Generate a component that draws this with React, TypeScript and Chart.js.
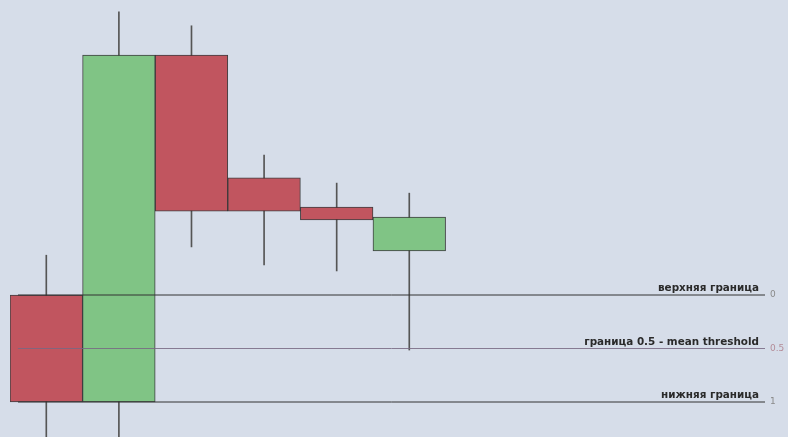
import React, { useEffect, useRef } from "react";
import { Chart, registerables } from "chart.js";

Chart.register(...registerables);

// candle positions (x) and OHLC values
const candleX = [1, 2, 3, 4, 5, 6];
const opens = [32.5, 8.0, 87.4, 59.3, 52.6, 42.6];
const closes = [8.0, 87.4, 51.7, 51.7, 49.7, 50.3];
const highs = [41.6, 97.3, 94.1, 64.5, 58.1, 55.8];
const lows = [-3, -3, 43.5, 39.4, 38.0, 19.9];

// threshold lines (right axis, reversed)
const thresholdValues = [0, 0.5, 1];
const thresholdLabels = ["верхняя граница", "граница 0.5 - mean threshold", "нижняя граница"];
const thresholdTickLabels = ["0", "0.5", "1"];
const thresholdStart = 0.61;
const thresholdEnd = 10.9;

const RED = "#c1555f";
const GREEN = "#80c485";

export default function App() {
  const ref = useRef<HTMLCanvasElement | null>(null);

  useEffect(() => {
    document.body.style.margin = "0";
    document.body.style.background = "#d6dde9";
    if (!ref.current) return;

    const labelPlugin = {
      id: "thresholdLabels",
      afterDatasetsDraw(chart: any) {
        const { ctx, chartArea, scales } = chart;
        const y2 = scales.y2;
        ctx.save();
        ctx.font = "bold 10.4px 'DejaVu Sans'";
        ctx.fillStyle = "#2a2a2a";
        ctx.textAlign = "right";
        ctx.textBaseline = "alphabetic";
        thresholdValues.forEach((v, i) => {
          const py = y2.getPixelForValue(v);
          ctx.fillText(thresholdLabels[i], chartArea.right - 6, py - 4);
        });
        ctx.restore();
      },
    };

    const chart = new Chart(ref.current, {
      type: "bar",
      data: {
        datasets: [
          ...thresholdValues.map((v, i) => ({
            type: "line" as const,
            label: thresholdLabels[i],
            data: [
              { x: thresholdStart, y: v },
              { x: thresholdEnd, y: v },
            ],
            yAxisID: "y2",
            borderColor: v === 0.5 ? "rgba(120,105,130,0.85)" : "#333",
            borderWidth: 1,
            pointRadius: 0,
            order: 0,
          })),
          {
            type: "bar" as const,
            label: "body",
            data: candleX.map((x, i) => ({ x, y: [opens[i], closes[i]] })),
            yAxisID: "y",
            backgroundColor: candleX.map((_, i) => (closes[i] >= opens[i] ? GREEN : RED)),
            borderColor: "rgba(35,35,35,0.85)",
            borderWidth: 1,
            borderSkipped: false,
            barPercentage: 1,
            categoryPercentage: 1,
            grouped: false,
            order: 1,
          },
          {
            type: "bar" as const,
            label: "wick",
            data: candleX.map((x, i) => ({ x, y: [lows[i], highs[i]] })),
            yAxisID: "y",
            backgroundColor: "#555",
            borderWidth: 0,
            barThickness: 1,
            grouped: false,
            order: 2,
          },
        ] as any,
      },
      options: {
        animation: false,
        responsive: true,
        maintainAspectRatio: false,
        layout: { padding: { left: 10, right: 0, top: 0, bottom: 0 } },
        plugins: {
          legend: { display: false },
          tooltip: { enabled: false },
        },
        scales: {
          x: {
            type: "linear",
            min: 0.5,
            max: thresholdEnd,
            offset: false,
            display: false,
            afterBuildTicks: (axis: any) => {
              axis.ticks = candleX.map((v) => ({ value: v }));
            },
          },
          y: {
            type: "linear",
            min: 0,
            max: 100,
            display: false,
          },
          y2: {
            type: "linear",
            position: "right",
            reverse: true,
            min: -2.757,
            max: 1.327,
            grid: { display: false, drawTicks: false },
            border: { display: false },
            afterBuildTicks: (axis: any) => {
              axis.ticks = thresholdValues.map((v) => ({ value: v }));
            },
            afterFit: (axis: any) => {
              axis.width = 23;
              axis.paddingTop = 0;
              axis.paddingBottom = 0;
              axis.paddingLeft = 0;
              axis.paddingRight = 0;
            },
            ticks: {
              padding: 5,
              font: { size: 9, family: "'DejaVu Sans'" },
              color: (c: any) => (c.tick && c.tick.value === 0.5 ? "#b48c98" : "#8a8a8a"),
              callback: (v: any) => thresholdTickLabels[thresholdValues.indexOf(Number(v))] ?? "",
            },
          },
        },
      },
      plugins: [labelPlugin],
    } as any);

    return () => chart.destroy();
  }, []);

  return (
    <div style={{ width: 788, height: 437, background: "#d6dde9", position: "relative" }}>
      <canvas ref={ref} />
    </div>
  );
}
